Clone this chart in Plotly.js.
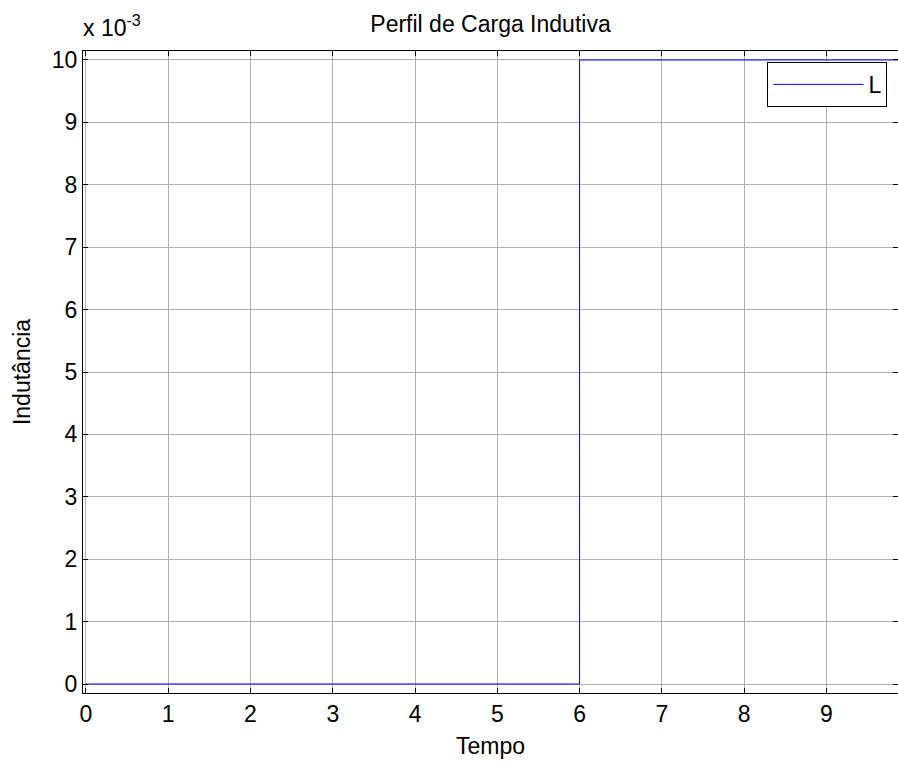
<!DOCTYPE html>
<html>
<head>
<meta charset="utf-8">
<script src="https://cdn.plot.ly/plotly-3.0.1.min.js"></script>
<style>html,body{margin:0;padding:0;background:#fff;}#chart{width:898px;height:762px;}</style>
</head>
<body>
<div id="chart"></div>
<script>
// Data (step profile of inductance)
const timeValues = [0, 6, 6, 9.95];
const inductanceValues = [0, 0, 0.01, 0.01];
const seriesName = 'L';
const xTickValues = [0, 1, 2, 3, 4, 5, 6, 7, 8, 9];
const xTickLabels = ['0', '1', '2', '3', '4', '5', '6', '7', '8', '9'];
const yTickValues = [0, 0.001, 0.002, 0.003, 0.004, 0.005, 0.006, 0.007, 0.008, 0.009, 0.010];
const yTickLabels = ['0', '1', '2', '3', '4', '5', '6', '7', '8', '9', '10'];

const FONT = 'Liberation Sans, Arial, Helvetica, sans-serif';
const FS = 23;

const trace = {
  x: timeValues,
  y: inductanceValues,
  type: 'scatter',
  mode: 'lines',
  name: seriesName,
  line: {color: '#0000ff', width: 1}
};

const axisCommon = {
  showline: true,
  linecolor: '#000',
  linewidth: 1,
  mirror: 'ticks',
  ticks: 'inside',
  ticklen: 5,
  tickcolor: '#000',
  tickwidth: 1,
  showgrid: true,
  gridcolor: '#b0b0b0',
  gridwidth: 1,
  zeroline: false,
  tickfont: {family: FONT, size: FS, color: '#000'}
};

const layout = {
  width: 898,
  height: 762,
  margin: {l: 83, r: 0, t: 51, b: 69, pad: 0},
  paper_bgcolor: '#fff',
  plot_bgcolor: '#fff',
  font: {family: FONT, size: FS, color: '#000'},
  title: {
    text: 'Perfil de Carga Indutiva',
    font: {family: FONT, size: FS, color: '#000'},
    xref: 'paper', x: 0.5, xanchor: 'center',
    yref: 'container', y: 1 - 32 / 762, yanchor: 'bottom'
  },
  xaxis: Object.assign({}, axisCommon, {
    range: [-0.036, 9.87],
    tickmode: 'array',
    tickvals: xTickValues,
    ticktext: xTickLabels,
    title: {text: 'Tempo', font: {family: FONT, size: FS, color: '#000'}, standoff: 12}
  }),
  yaxis: Object.assign({}, axisCommon, {
    range: [-0.000144, 0.010144],
    tickmode: 'array',
    tickvals: yTickValues,
    ticktext: yTickLabels,
    title: {text: 'Indutância', font: {family: FONT, size: FS, color: '#000'}, standoff: 14}
  }),
  showlegend: true,
  legend: {
    x: 0.987, xanchor: 'right',
    y: 0.983, yanchor: 'top',
    bgcolor: '#fff',
    bordercolor: '#000',
    borderwidth: 1,
    itemwidth: 90,
    font: {family: FONT, size: FS, color: '#000'}
  },
  annotations: [{
    text: 'x 10<sup>-3</sup>',
    xref: 'paper', yref: 'paper',
    x: 0, y: 1, xanchor: 'left', yanchor: 'bottom',
    xshift: -2, yshift: 8,
    showarrow: false,
    font: {family: FONT, size: FS, color: '#000'}
  }]
};

Plotly.newPlot('chart', [trace], layout, {displayModeBar: false, staticPlot: true});
</script>
</body>
</html>
